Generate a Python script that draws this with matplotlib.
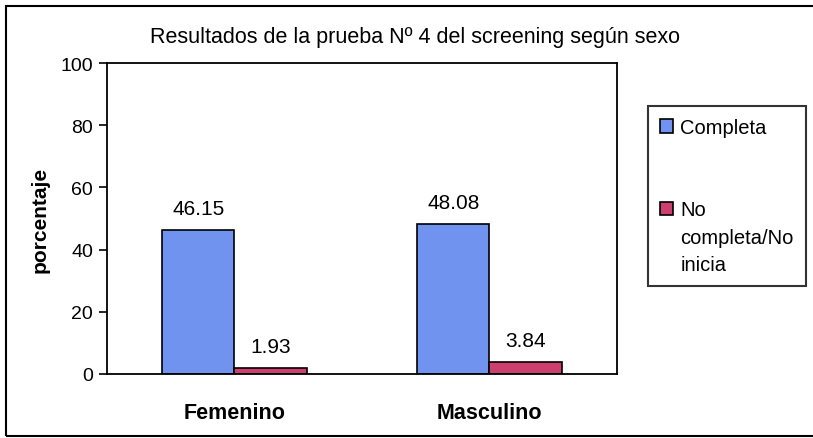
import numpy as np
import matplotlib
matplotlib.use('Agg')
import matplotlib.pyplot as plt
from matplotlib.patches import Rectangle, Patch

plt.rcParams['font.family'] = ['Liberation Sans', 'DejaVu Sans']

# datos
categorias = ['Femenino', 'Masculino']
completa = [46.15, 48.08]
no_completa = [1.93, 3.84]
series = ['Completa', 'No completa/No inicia']
titulo = 'Resultados de la prueba Nº 4 del screening según sexo'

fig = plt.figure(figsize=(8.13, 4.39), dpi=100)
ax = fig.add_axes([0.1316, 0.1458, 0.6273, 0.7084])

# marco exterior
fig.patches.append(Rectangle((6 / 813, 2 / 439), 1.0, 430 / 439, transform=fig.transFigure,
                             fill=False, edgecolor='black', linewidth=1.5))

x = np.arange(len(categorias))
w = 0.283
b1 = ax.bar(x - w / 2, completa, w, color='#6f93ee', edgecolor='black', linewidth=1.2)
b2 = ax.bar(x + w / 2, no_completa, w, color='#cc3f6e', edgecolor='black', linewidth=1.2)

for bars in (b1, b2):
    for r in bars:
        ax.text(r.get_x() + r.get_width() / 2, r.get_height() + 4, '%.2f' % r.get_height(),
                ha='center', va='bottom', fontsize=15)

ax.set_xlim(-0.5, 1.5)
ax.set_ylim(0, 100)
ax.set_yticks([0, 20, 40, 60, 80, 100])
ax.set_xticks(x)
ax.set_xticklabels(categorias, fontsize=15.5, fontweight='bold')
ax.tick_params(axis='x', length=0, pad=20)
ax.tick_params(axis='y', length=6, width=1.2, labelsize=14, pad=4)
for s in ax.spines.values():
    s.set_linewidth(1.3)
ax.set_ylabel('porcentaje', fontsize=15, fontweight='bold', labelpad=8)

fig.text(415 / 813, 1 - 37 / 439, titulo, ha='center', va='center', fontsize=15.5)

# leyenda: el texto de la segunda serie va en varias lineas, como en el original
vacio = Patch(facecolor='none', edgecolor='none')
handles = [b1, vacio, vacio, b2, vacio, vacio]
labels = [series[0], ' ', ' ', 'No', 'completa/No', 'inicia']
leg = ax.legend(handles, labels, loc='upper left', bbox_to_anchor=(648 / 813, 1 - 107 / 439),
                bbox_transform=fig.transFigure, frameon=True, fancybox=False,
                fontsize=14.5, handlelength=0.65, handleheight=0.65, handletextpad=0.35,
                labelspacing=0.42, borderpad=0.6, borderaxespad=0)
leg.get_frame().set_edgecolor('black')
leg.get_frame().set_linewidth(1.5)

fig.savefig('out.png', dpi=100)
